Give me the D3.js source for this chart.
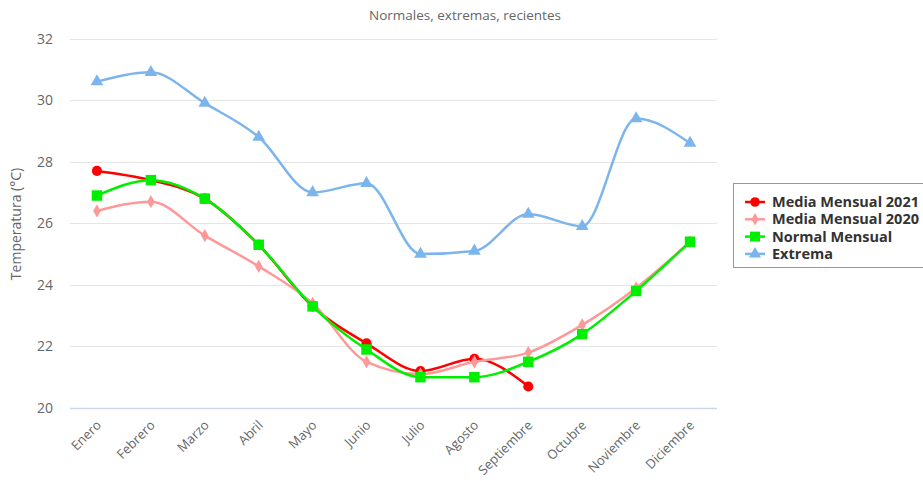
<!DOCTYPE html>
<html><head><meta charset="utf-8">
<script src="https://cdn.jsdelivr.net/npm/d3@7"></script>
<style>body{margin:0;background:#fff;}svg{display:block;font-family:"Open Sans",sans-serif;}</style>
</head><body><svg id="c" width="923" height="481"></svg>
<script>
const months = ["Enero","Febrero","Marzo","Abril","Mayo","Junio","Julio","Agosto","Septiembre","Octubre","Noviembre","Diciembre"];
const yTicks = [20,22,24,26,28,30,32];
const media2021 = [27.7,27.4,26.8,25.3,23.3,22.1,21.2,21.6,20.7];
const media2020 = [26.4,26.7,25.6,24.6,23.4,21.5,21.1,21.5,21.8,22.7,23.9,25.4];
const normal = [26.9,27.4,26.8,25.3,23.3,21.9,21.0,21.0,21.5,22.4,23.8,25.4];
const extrema = [30.6,30.9,29.9,28.8,27.0,27.3,25.0,25.1,26.3,25.9,29.4,28.6];
const seriesNames = ["Media Mensual 2021","Media Mensual 2020","Normal Mensual","Extrema"];

const series = [
  {name:seriesNames[0], data:media2021, color:"#ff0000", sym:d3.symbolCircle, size:80},
  {name:seriesNames[1], data:media2020, color:"#ff9999", sym:d3.symbolDiamond, size:50},
  {name:seriesNames[2], data:normal, color:"#00ee00", sym:d3.symbolSquare, size:110},
  {name:seriesNames[3], data:extrema, color:"#7cb5ec", sym:d3.symbolTriangle, size:70}
];

const svg = d3.select("#c");
const L=70, R=717, T=38.5, B=408;
const x = d3.scalePoint().domain(months).range([L,R]).padding(0.5);
const y = d3.scaleLinear().domain([20,32]).range([B,T]);

svg.append("text").attr("x",465).attr("y",20).attr("text-anchor","middle")
  .attr("font-size",13.5).attr("fill","#666").text("Normales, extremas, recientes");

svg.append("g").selectAll("line").data(yTicks).join("line")
  .attr("x1",L).attr("x2",R).attr("y1",d=>Math.round(y(d))+0.5).attr("y2",d=>Math.round(y(d))+0.5)
  .attr("stroke",d=>d===20?"#ccd6eb":"#e6e6e6").attr("stroke-width",d=>d===20?1.5:1);

svg.append("g").selectAll("text").data(yTicks).join("text")
  .attr("x",53).attr("y",d=>y(d)+5).attr("text-anchor","end")
  .attr("font-size",14).attr("fill","#666").text(d=>d);

svg.append("text").attr("transform","translate(21,224) rotate(-90)").attr("text-anchor","middle")
  .attr("font-size",14).attr("fill","#666").text("Temperatura (°C)");

svg.append("g").selectAll("text").data(months).join("text")
  .attr("transform",d=>`translate(${x(d)+5},${426}) rotate(-45)`).attr("text-anchor","end")
  .attr("font-size",13).attr("fill","#666").text(d=>d);

const line = d3.line().x((d,i)=>x(months[i])).y(d=>y(d)).curve(d3.curveMonotoneX);
[0,1,2,3].forEach(k=>{
  const s = series[k];
  const g = svg.append("g");
  g.append("path").attr("d",line(s.data)).attr("fill","none").attr("stroke",s.color).attr("stroke-width",2.5);
  g.selectAll("path.m").data(s.data).join("path").attr("class","m")
    .attr("transform",(d,i)=>`translate(${x(months[i])},${y(d)})`)
    .attr("d",d3.symbol().type(s.sym).size(s.size)).attr("fill",s.color);
});

const lg = svg.append("g");
lg.append("rect").attr("x",733.5).attr("y",183.5).attr("width",200).attr("height",84)
  .attr("fill","#fff").attr("stroke","#999");
series.forEach((s,i)=>{
  const yy = 202 + i*17.3;
  lg.append("line").attr("x1",745).attr("x2",765).attr("y1",yy).attr("y2",yy).attr("stroke",s.color).attr("stroke-width",2.5);
  lg.append("path").attr("transform",`translate(755,${yy})`).attr("d",d3.symbol().type(s.sym).size(s.size*0.9)).attr("fill",s.color);
  lg.append("text").attr("x",772).attr("y",yy+5).attr("font-size",14.5).attr("font-weight","bold")
    .attr("fill","#333").text(s.name);
});
</script></body></html>
